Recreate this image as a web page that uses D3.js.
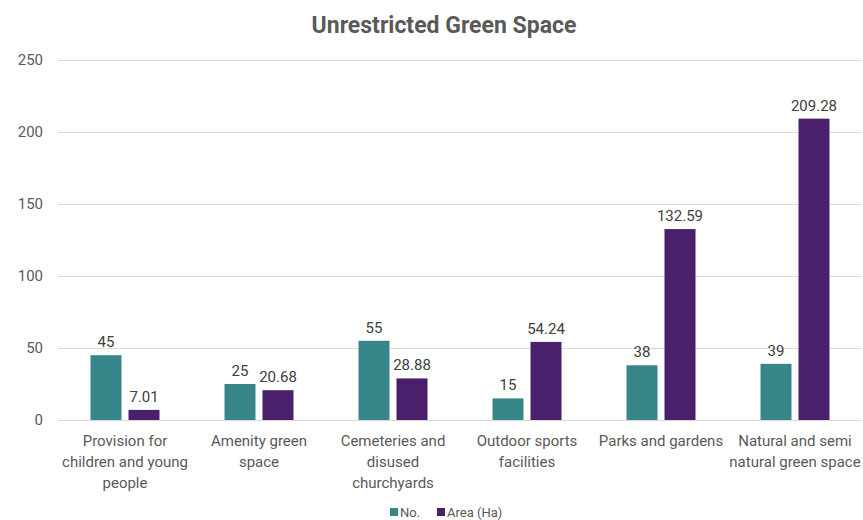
<!DOCTYPE html>
<html><head><meta charset="utf-8">
<script src="https://cdn.jsdelivr.net/npm/d3@7"></script>
<style>body{margin:0;background:#fff;} svg{display:block;font-family:Roboto, "Liberation Sans", sans-serif;}</style>
</head><body><svg id="c" width="863" height="520"></svg>
<script>
const categories = [
  ["Provision for","children and young","people"],
  ["Amenity green","space"],
  ["Cemeteries and","disused","churchyards"],
  ["Outdoor sports","facilities"],
  ["Parks and gardens"],
  ["Natural and semi","natural green space"]
];
const seriesNames = ["No.", "Area (Ha)"];
const noValues = [45, 25, 55, 15, 38, 39];
const areaValues = [7.01, 20.68, 28.88, 54.24, 132.59, 209.28];
const areaLabels = ["7.01", "20.68", "28.88", "54.24", "132.59", "209.28"];
const yTicks = [0, 50, 100, 150, 200, 250];
const colors = ["#37878a", "#4a1f6b"];

const svg = d3.select("#c");
const m = {left: 58, right: 862, top: 60, bottom: 420};
const x = d3.scaleBand().domain(d3.range(categories.length)).range([m.left, m.right]);
const y = d3.scaleLinear().domain([0, 250]).range([m.bottom, m.top]);
const barW = 31, barGap = 7, groupW = 2*barW + barGap;
const x1 = d3.scaleOrdinal().domain([0,1]).range([0, barW + barGap]);

svg.append("text").attr("x", 444).attr("y", 33).attr("text-anchor","middle")
  .attr("font-size", 23).attr("font-weight","bold").attr("fill","#595959")
  .text("Unrestricted Green Space");

// grid
svg.append("g").selectAll("line").data(yTicks).join("line")
  .attr("x1", m.left).attr("x2", m.right)
  .attr("y1", d=>y(d)+0.5).attr("y2", d=>y(d)+0.5)
  .attr("stroke","#d9d9d9").attr("stroke-width",1);

const yAxis = svg.append("g").attr("transform",`translate(${m.left},0)`)
  .call(d3.axisLeft(y).tickValues(yTicks).tickSize(0).tickPadding(15));
yAxis.select(".domain").remove();
yAxis.selectAll("text").attr("font-size",15).attr("fill","#595959").attr("font-family","Roboto, sans-serif");

const data = categories.map((c,i)=>({i, vals:[{k:0,v:noValues[i],l:String(noValues[i])},{k:1,v:areaValues[i],l:areaLabels[i]}]}));
const g = svg.append("g").selectAll("g").data(data).join("g")
  .attr("transform", d=>`translate(${x(d.i)+x.bandwidth()/2-groupW/2},0)`);
g.selectAll("rect").data(d=>d.vals).join("rect")
  .attr("x", d=>x1(d.k)).attr("width", barW)
  .attr("y", d=>y(d.v)).attr("height", d=>y(0)-y(d.v))
  .attr("fill", d=>colors[d.k]);
g.selectAll("text").data(d=>d.vals).join("text")
  .attr("x", d=>x1(d.k)+barW/2).attr("y", d=>y(d.v)-8)
  .attr("text-anchor","middle").attr("font-size",15).attr("fill","#404040")
  .text(d=>d.l);

// x labels
const xl = svg.append("g").selectAll("text").data(categories).join("text")
  .attr("x",(d,i)=>x(i)+x.bandwidth()/2).attr("y",446)
  .attr("text-anchor","middle").attr("font-size",15).attr("fill","#595959");
xl.selectAll("tspan").data(d=>d).join("tspan")
  .attr("x", function(){return this.parentNode.getAttribute("x");})
  .attr("dy",(d,j)=>j===0?0:21).text(d=>d);

// legend
const leg = svg.append("g");
const lx = [390, 437];
seriesNames.forEach((s,i)=>{
  leg.append("rect").attr("x",lx[i]).attr("y",508).attr("width",8).attr("height",8).attr("fill",colors[i]);
  leg.append("text").attr("x",lx[i]+10).attr("y",517).attr("font-size",13).attr("fill","#595959").text(s);
});
</script></body></html>
